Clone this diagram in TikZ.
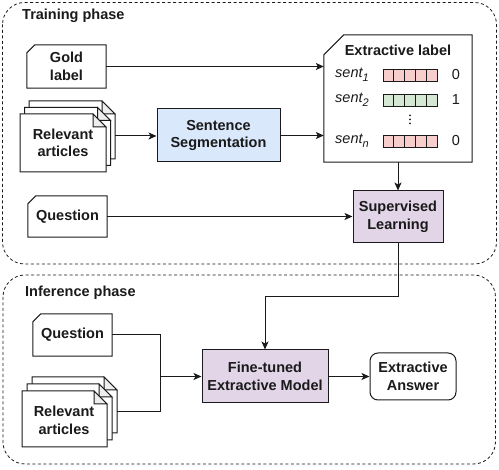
\documentclass[tikz,border=0pt]{standalone}
\usepackage{fontspec}
\setmainfont{Liberation Sans}
\usetikzlibrary{arrows.meta,calc}
\definecolor{segblue}{HTML}{DAE8FC}
\definecolor{learnpurple}{HTML}{E1D5E7}
\definecolor{barred}{HTML}{F8CECC}
\definecolor{bargreen}{HTML}{D5E8D4}
\definecolor{foldgrey}{HTML}{EEEEEE}
\definecolor{ink}{HTML}{1A1A1A}
\tikzset{
  lbl/.style={inner sep=0pt, align=center, text=ink, font=\bfseries\fontsize{14.5}{17.5}\selectfont},
  box/.style={lbl, draw=ink, line width=1pt},
  outline/.style={draw=ink, line width=1pt},
  phasebox/.style={draw=ink, line width=0.8pt, dash pattern=on 3pt off 2.5pt, rounded corners=22pt},
  conn/.style={draw=ink, line width=1pt},
  arr/.style={conn, -{Stealth[length=8pt,width=7pt,inset=2pt]}},
  sentlbl/.style={inner sep=0pt, anchor=west, text=ink, font=\itshape\fontsize{14.5}{17.5}\selectfont},
  numlbl/.style={inner sep=0pt, text=ink, font=\fontsize{14.5}{17.5}\selectfont},
}
\newcommand\mysub[1]{\raisebox{-4pt}{\fontsize{11}{11}\selectfont #1}}
\newcommand\docpath[4]{%
  \filldraw[outline, fill=white] (#1,#2) -- ({#3-13},#2) -- (#3,{#2+13}) -- (#3,#4) -- (#1,#4) -- cycle;
  \filldraw[outline, fill=foldgrey] ({#3-13},#2) -- ({#3-13},{#2+13}) -- (#3,{#2+13}) -- cycle;
}
\newcommand\cardoutline[2]{%
  \draw[outline] ([xshift=#2]#1.north west) -- (#1.north east) -- (#1.south east) -- (#1.south west) -- ([yshift=-#2]#1.north west) -- cycle;
}
\newcommand\barrow[2]{% top y, colour
  \foreach \i in {0,...,4} {
    \filldraw[draw=ink, line width=0.8pt, fill=#2] ({383+10.8*\i},#1) rectangle ({383+10.8*(\i+1)},{#1+12});
  }
}
\begin{document}
\begin{tikzpicture}[x=1pt,y=-1pt]
\useasboundingbox (0,0) rectangle (499,470);

% phase frames
\draw[phasebox] (2.5,2.5) rectangle (496.5,264);
\draw[phasebox] (3,275) rectangle (495.5,464);
\node[lbl, anchor=west] (tp) at (22,16) {Training phase};
\node[lbl, anchor=west] (ip) at (25,292.5) {Inference phase};

% ---------- training ----------
\node[lbl, minimum width=79pt, minimum height=43pt] (gold) at (66.5,66.5) {Gold\\label};
\cardoutline{gold}{8pt}

\docpath{29}{101}{115}{159}
\docpath{24.5}{107.5}{110.5}{165.5}
\docpath{20}{114}{106}{172}
\node[lbl] (docsA) at (63,143) {Relevant\\articles};
\coordinate (docsAout) at (115,136);

\node[box, fill=segblue, minimum width=123pt, minimum height=53pt] (seg) at (218.5,135.5) {Sentence\\Segmentation};

\node[lbl, minimum width=79pt, minimum height=41pt] (qA) at (67.5,216.5) {Question};
\cardoutline{qA}{8pt}

\node[inner sep=0pt, minimum width=148pt, minimum height=127pt] (ext) at (398,98.5) {};
\cardoutline{ext}{20pt}
\node[lbl] (extt) at (398,50) {Extractive label};
\node[sentlbl] (s1) at (335,75) {sent\mysub{1}};
\node[sentlbl] (s2) at (335,100) {sent\mysub{2}};
\node[sentlbl] (sn) at (335,141) {sent\mysub{n}};
\barrow{69}{barred}
\barrow{94}{bargreen}
\barrow{135}{barred}
\foreach \yy in {115.5,119.5,123.5} \fill[ink] (410,\yy) circle (1pt);
\node[numlbl] (n1) at (456,75) {0};
\node[numlbl] (n2) at (456,100) {1};
\node[numlbl] (nn) at (456,141) {0};

\node[box, fill=learnpurple, minimum width=90pt, minimum height=52pt] (sup) at (398,217) {Supervised\\Learning};

\draw[arr] (gold.east) -- (gold.east -| ext.west);
\draw[arr] (docsAout) -- (docsAout -| seg.west);
\draw[arr] (seg.east) -- (seg.east -| ext.west);
\draw[arr] (qA.east) -- (qA.east -| sup.west);
\draw[arr] (ext.south) -- (sup.north);

% ---------- inference ----------
\node[lbl, minimum width=79pt, minimum height=42pt] (qB) at (72.5,335) {Question};
\cardoutline{qB}{8pt}

\docpath{32}{377}{117}{433}
\docpath{27}{384}{112}{440}
\docpath{22}{391}{107}{447}
\node[lbl] (docsB) at (64,420.5) {Relevant\\articles};
\coordinate (docsBout) at (117,412);

\node[box, fill=learnpurple, minimum width=126pt, minimum height=53pt] (fine) at (265,376.5) {Fine-tuned\\Extractive Model};
\node[box, rounded corners=8pt, minimum width=86pt, minimum height=47pt] (ans) at (413,376.5) {Extractive\\Answer};

\coordinate (join) at (160,376.5);
\draw[conn] (qB.east) -| (join);
\draw[conn] (docsBout) -| (join);
\draw[arr] (join) -- (fine.west);
\draw[arr] (fine.east) -- (ans.west);

\coordinate (bend) at (398,297);
\draw[arr] (sup.south) -- (bend) -| (fine.north);
\end{tikzpicture}
\end{document}
